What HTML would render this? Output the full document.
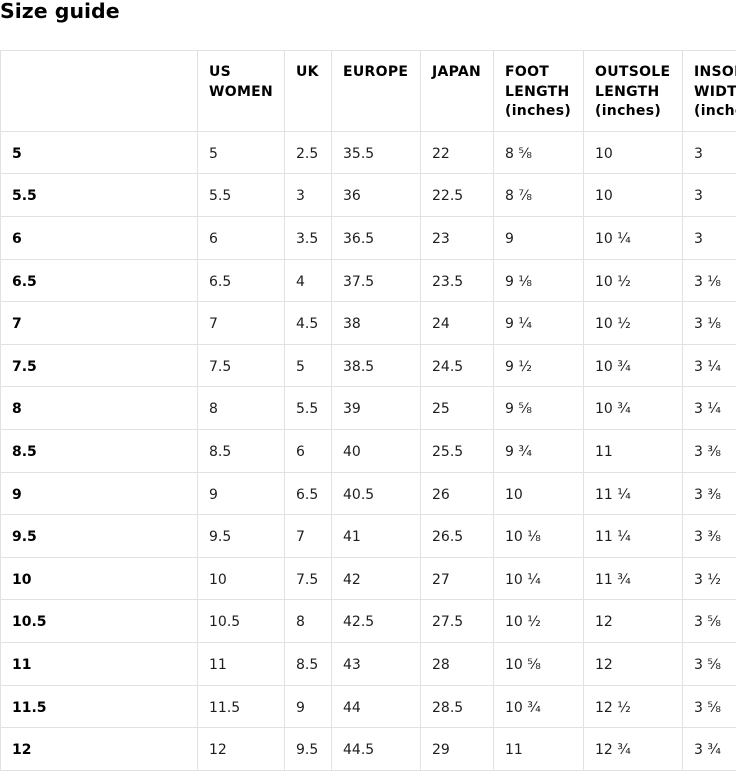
<!DOCTYPE html>
<html>
<head>
<meta charset="utf-8">
<style>
  html, body { margin: 0; padding: 0; background: #fff; }
  body { width: 736px; height: 772px; overflow: hidden; font-family: "DejaVu Sans", "Liberation Sans", sans-serif; color: #1a1a1a; }
  h1 { margin: 0; padding: 0; font-size: 20.5px; line-height: 23px; font-weight: bold; color: #000; height: 23px; position: absolute; top: 0; left: 0; }
  table { position: absolute; top: 50px; left: 0; border-collapse: collapse; table-layout: fixed; width: 772px; font-size: 14px; }
  td, th { border: 1px solid #e2e2e2; padding: 13px 6px 9px 11px; line-height: 19.6px; text-align: left; vertical-align: middle; overflow: hidden; white-space: nowrap; }
  th { vertical-align: top; font-weight: bold; color: #000; padding-top: 12px; padding-bottom: 9px; letter-spacing: 0.3px; white-space: normal; }
  td.b { font-weight: bold; color: #000; }
  td { color: #1e1e1e; }
</style>
</head>
<body>
<h1>Size guide</h1>
<table>
  <colgroup>
    <col style="width:197px">
    <col style="width:87px">
    <col style="width:47px">
    <col style="width:89px">
    <col style="width:73px">
    <col style="width:90px">
    <col style="width:99px">
    <col style="width:90px">
  </colgroup>
  <tr>
    <th></th>
    <th>US<br>WOMEN</th>
    <th>UK</th>
    <th>EUROPE</th>
    <th>JAPAN</th>
    <th>FOOT<br>LENGTH<br>(inches)</th>
    <th>OUTSOLE<br>LENGTH<br>(inches)</th>
    <th>INSOLE<br>WIDTH<br>(inches)</th>
  </tr>
  <tr><td class="b">5</td><td>5</td><td>2.5</td><td>35.5</td><td>22</td><td>8 ⅝</td><td>10</td><td>3</td></tr>
  <tr><td class="b">5.5</td><td>5.5</td><td>3</td><td>36</td><td>22.5</td><td>8 ⅞</td><td>10</td><td>3</td></tr>
  <tr><td class="b">6</td><td>6</td><td>3.5</td><td>36.5</td><td>23</td><td>9</td><td>10 ¼</td><td>3</td></tr>
  <tr><td class="b">6.5</td><td>6.5</td><td>4</td><td>37.5</td><td>23.5</td><td>9 ⅛</td><td>10 ½</td><td>3 ⅛</td></tr>
  <tr><td class="b">7</td><td>7</td><td>4.5</td><td>38</td><td>24</td><td>9 ¼</td><td>10 ½</td><td>3 ⅛</td></tr>
  <tr><td class="b">7.5</td><td>7.5</td><td>5</td><td>38.5</td><td>24.5</td><td>9 ½</td><td>10 ¾</td><td>3 ¼</td></tr>
  <tr><td class="b">8</td><td>8</td><td>5.5</td><td>39</td><td>25</td><td>9 ⅝</td><td>10 ¾</td><td>3 ¼</td></tr>
  <tr><td class="b">8.5</td><td>8.5</td><td>6</td><td>40</td><td>25.5</td><td>9 ¾</td><td>11</td><td>3 ⅜</td></tr>
  <tr><td class="b">9</td><td>9</td><td>6.5</td><td>40.5</td><td>26</td><td>10</td><td>11 ¼</td><td>3 ⅜</td></tr>
  <tr><td class="b">9.5</td><td>9.5</td><td>7</td><td>41</td><td>26.5</td><td>10 ⅛</td><td>11 ¼</td><td>3 ⅜</td></tr>
  <tr><td class="b">10</td><td>10</td><td>7.5</td><td>42</td><td>27</td><td>10 ¼</td><td>11 ¾</td><td>3 ½</td></tr>
  <tr><td class="b">10.5</td><td>10.5</td><td>8</td><td>42.5</td><td>27.5</td><td>10 ½</td><td>12</td><td>3 ⅝</td></tr>
  <tr><td class="b">11</td><td>11</td><td>8.5</td><td>43</td><td>28</td><td>10 ⅝</td><td>12</td><td>3 ⅝</td></tr>
  <tr><td class="b">11.5</td><td>11.5</td><td>9</td><td>44</td><td>28.5</td><td>10 ¾</td><td>12 ½</td><td>3 ⅝</td></tr>
  <tr><td class="b">12</td><td>12</td><td>9.5</td><td>44.5</td><td>29</td><td>11</td><td>12 ¾</td><td>3 ¾</td></tr>
</table>
</body>
</html>
